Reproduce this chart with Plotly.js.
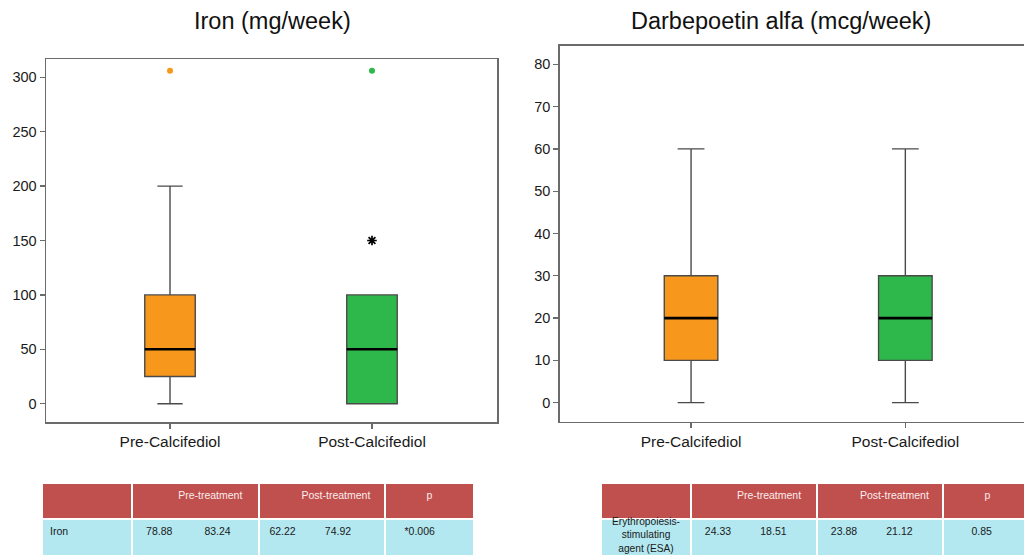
<!DOCTYPE html>
<html>
<head>
<meta charset="utf-8">
<script src="https://cdn.plot.ly/plotly-3.0.1.min.js"></script>
<style>
  html, body { margin: 0; padding: 0; background: #fff; }
  #wrap { position: relative; width: 1024px; height: 555px; overflow: hidden; }
  #chart { position: absolute; left: 0; top: 0; width: 1080px; height: 620px; }
</style>
</head>
<body>
<div id="wrap"><div id="chart"></div></div>
<script>
// ---------- data ----------
const categories = ['Pre-Calcifediol', 'Post-Calcifediol'];
const positions = [0, 1];

// Iron (mg/week)
const ironLower  = [0, 0];
const ironQ1     = [25, 0];
const ironMedian = [50, 50];
const ironQ3     = [100, 100];
const ironUpper  = [200, 100];
const ironOutlierX = [0, 1];
const ironOutlierY = [306, 306];
const ironExtremeX = [1];
const ironExtremeY = [150];

// Darbepoetin alfa (mcg/week)
const darbeLower  = [0, 0];
const darbeQ1     = [10, 10];
const darbeMedian = [20, 20];
const darbeQ3     = [30, 30];
const darbeUpper  = [60, 60];

const boxColors = ['#f7981d', '#2eb84b'];
const titles = ['Iron (mg/week)', 'Darbepoetin alfa (mcg/week)'];

// Tables
const tableHeader = ['', 'Pre-treatment', 'Post-treatment', 'p'];
const ironLabel = 'Iron';
const ironPre  = [78.88, 83.24];
const ironPost = [62.22, 74.92];
const ironP    = '*0.006';
const esaLabel = 'Erythropoiesis-<br>stimulating<br>agent (ESA)';
const esaPre  = [24.33, 18.51];
const esaPost = [23.88, 21.12];
const esaP    = '0.85';

// ---------- helpers ----------
const W = 1080, H = 620;
const px = v => v / W;
const py = v => 1 - v / H;
const sp = n => '\u00a0'.repeat(n);
const BOX_W = 0.25;
const FONT = 'Liberation Sans, Arial, Helvetica, sans-serif';

const traces = [];

function addBoxes(xa, ya, lower, q1, med, q3, upper) {
  positions.forEach((p, i) => {
    traces.push({
      type: 'box', orientation: 'v', xaxis: xa, yaxis: ya,
      x: [p], q1: [q1[i]], median: [med[i]], q3: [q3[i]],
      lowerfence: [lower[i]], upperfence: [upper[i]],
      width: BOX_W, whiskerwidth: 0.5, boxpoints: false,
      fillcolor: boxColors[i],
      line: { color: '#4a4a4a', width: 1.4 },
      showlegend: false, hoverinfo: 'skip'
    });
    traces.push({
      type: 'scatter', mode: 'lines', xaxis: xa, yaxis: ya,
      x: [p - BOX_W / 2, p + BOX_W / 2], y: [med[i], med[i]],
      line: { color: '#000', width: 2.6 },
      showlegend: false, hoverinfo: 'skip'
    });
  });
}

addBoxes('x', 'y', ironLower, ironQ1, ironMedian, ironQ3, ironUpper);
addBoxes('x2', 'y2', darbeLower, darbeQ1, darbeMedian, darbeQ3, darbeUpper);

// iron outliers
traces.push({
  type: 'scatter', mode: 'markers', xaxis: 'x', yaxis: 'y',
  x: ironOutlierX, y: ironOutlierY,
  marker: { size: 6, color: ironOutlierX.map(i => boxColors[i]) },
  showlegend: false, hoverinfo: 'skip'
});
traces.push({
  type: 'scatter', mode: 'markers', xaxis: 'x', yaxis: 'y',
  x: ironExtremeX, y: ironExtremeY,
  marker: { symbol: 'asterisk-open', size: 8, color: '#000', line: { color: '#000', width: 1.7 } },
  showlegend: false, hoverinfo: 'skip'
});

// tables
function fmtPair(v, lead, gap) {
  return sp(lead) + v[0].toFixed(2) + sp(gap) + v[1].toFixed(2);
}
function headerVals() {
  return [tableHeader[0], sp(13) + tableHeader[1], sp(12) + tableHeader[2], tableHeader[3]];
}
const tableCommon = {
  type: 'table',
  columnwidth: [90, 126, 126, 89],
  header: {
    values: headerVals(),
    align: ['left', 'left', 'left', 'center'],
    fill: { color: '#c0504d' },
    line: { color: '#ffffff', width: 2 },
    font: { family: FONT, size: 10.5, color: '#fbecec' },
    height: 36
  }
};
traces.push(Object.assign({}, tableCommon, {
  domain: { x: [px(42), px(474)], y: [0, py(483)] },
  cells: {
    values: [[ironLabel], [fmtPair(ironPre, 2, 11)], [fmtPair(ironPost, 1, 10)], [sp(4) + ironP]],
    align: ['left', 'left', 'left', 'left'],
    fill: { color: '#b3e8f0' },
    line: { color: '#ffffff', width: 2 },
    font: { family: FONT, size: 10.5, color: '#1a1a1a' },
    height: 40
  }
}));
traces.push(Object.assign({}, tableCommon, {
  domain: { x: [px(601), px(1032)], y: [0, py(483)] },
  cells: {
    // row label is vertically centred in the reference, so it is drawn as an annotation below
    values: [[''], [fmtPair(esaPre, 2, 10)], [fmtPair(esaPost, 2, 10)], [sp(7) + esaP]],
    align: ['center', 'left', 'left', 'left'],
    fill: { color: '#b3e8f0' },
    line: { color: '#ffffff', width: 2 },
    font: { family: FONT, size: 10.5, color: '#1a1a1a' },
    height: 40
  }
}));

const axisBase = {
  showline: true, mirror: true, linecolor: '#6b6b6b', linewidth: 1.5,
  ticks: 'outside', ticklen: 5, tickcolor: '#6b6b6b', tickwidth: 1.3,
  showgrid: false, zeroline: false, fixedrange: true
};
const xTickFont = { family: FONT, size: 15.5, color: '#1a1a1a' };
const yTickFont = { family: FONT, size: 14.5, color: '#1a1a1a' };

const layout = {
  width: W, height: H,
  margin: { l: 0, r: 0, t: 0, b: 0 },
  paper_bgcolor: '#ffffff', plot_bgcolor: '#ffffff',
  font: { family: FONT },
  boxmode: 'overlay',
  showlegend: false,
  xaxis: Object.assign({}, axisBase, {
    domain: [px(46), px(497)], anchor: 'y',
    range: [-0.614, 1.619], tickmode: 'array', tickvals: positions, ticktext: categories,
    tickfont: xTickFont
  }),
  yaxis: Object.assign({}, axisBase, {
    domain: [py(422), py(59)], anchor: 'x',
    range: [-16.8, 316.8], tickmode: 'linear', tick0: 0, dtick: 50,
    tickfont: yTickFont
  }),
  xaxis2: Object.assign({}, axisBase, {
    domain: [px(559.7), px(1036.7)], anchor: 'y2',
    range: [-0.613, 1.613], tickmode: 'array', tickvals: positions, ticktext: categories,
    tickfont: xTickFont
  }),
  yaxis2: Object.assign({}, axisBase, {
    domain: [py(421.7), py(45.7)], anchor: 'x2',
    range: [-4.5, 84.4], tickmode: 'linear', tick0: 0, dtick: 10,
    tickfont: yTickFont
  }),
  annotations: [
    { text: titles[0], xref: 'paper', yref: 'paper', x: px(272), y: py(21),
      xanchor: 'center', yanchor: 'middle', showarrow: false,
      font: { family: FONT, size: 23.5, color: '#111' } },
    { text: titles[1], xref: 'paper', yref: 'paper', x: px(780.7), y: py(21),
      xanchor: 'center', yanchor: 'middle', showarrow: false,
      font: { family: FONT, size: 23.5, color: '#111' } },
    { text: esaLabel, xref: 'paper', yref: 'paper', x: px(645.5), y: py(535),
      xanchor: 'center', yanchor: 'middle', align: 'center', showarrow: false,
      font: { family: FONT, size: 10.2, color: '#1a1a1a' } }
  ]
};

Plotly.newPlot('chart', traces, layout, { displayModeBar: false, staticPlot: true });
</script>
</body>
</html>
